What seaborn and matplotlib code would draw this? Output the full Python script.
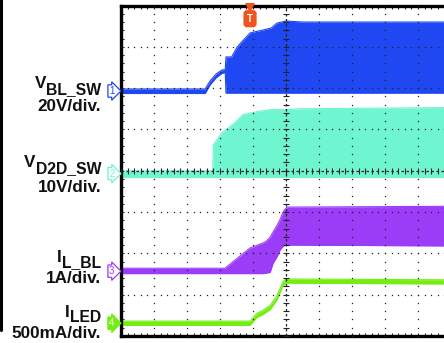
import numpy as np
import pandas as pd
import matplotlib
matplotlib.use("Agg")
import matplotlib.pyplot as plt
from matplotlib.lines import Line2D
import seaborn as sns

# ---------------- data ----------------
# time in screen divisions (0..10), values in channel units
ch_labels = ["V", "V", "I", "I"]
ch_subs = ["BL_SW", "D2D_SW", "L_BL", "LED"]
ch_scales_txt = ["20V/div.", "10V/div.", "1A/div.", "500mA/div."]
ch_numbers = ["1", "2", "3", "4"]
ch_scales = [20.0, 10.0, 1.0, 0.5]          # units per division
ch_offsets = [5.93, 3.93, 1.57, 0.31]       # ground marker position (div)
ch_colors = ["#1f48f2", "#6ff5cf", "#9b3cf7", "#74ee10"]

# CH1  V_BL_SW (V)
t1 = [0.0, 2.55, 2.70, 2.88, 3.06, 3.16, 3.18, 3.35, 3.52, 3.70, 3.91, 4.15, 4.30, 4.55, 4.73, 5.0, 5.5, 10.0]
hi1 = [1.0, 1.0, 4.9, 8.2, 10.2, 10.4, 16.5, 16.5, 21.3, 24.5, 28.1, 29.0, 29.5, 30.5, 32.9, 33.9, 33.4, 33.4]
lo1 = [-1.2, -1.2, 3.0, 6.4, 8.6, 8.9, -1.0, -1.0, -1.0, -1.0, -1.0, -1.0, -1.0, -1.0, -1.0, -1.0, -1.0, -1.0]

# CH2  V_D2D_SW (V)
t2 = [0.0, 2.78, 2.80, 3.06, 3.39, 3.70, 4.12, 4.52, 4.97, 5.42, 10.0]
hi2 = [0.7, 0.7, 7.0, 9.9, 11.9, 14.3, 15.0, 15.5, 15.5, 15.7, 16.0]
lo2 = [-0.7, -0.7, -0.7, -0.7, -0.7, -0.7, -0.7, -0.7, -0.7, -0.7, -0.7]

# CH3  I_L_BL (A)
t3 = [0.0, 3.15, 3.52, 3.91, 4.30, 4.39, 4.52, 4.61, 4.73, 4.82, 4.91, 4.97, 5.03, 10.0]
hi3 = [0.07, 0.07, 0.31, 0.56, 0.68, 0.72, 0.82, 0.95, 1.11, 1.25, 1.43, 1.50, 1.55, 1.57]
lo3 = [-0.06, -0.06, -0.06, -0.06, -0.06, -0.05, -0.03, 0.19, 0.35, 0.51, 0.60, 0.63, 0.63, 0.61]

# CH4  I_LED (A)
t4 = [0.0, 3.91, 4.12, 4.30, 4.52, 4.73, 4.91, 5.00, 10.0]
hi4 = [0.025, 0.025, 0.12, 0.155, 0.215, 0.335, 0.505, 0.535, 0.525]
lo4 = [-0.025, -0.025, 0.07, 0.105, 0.165, 0.285, 0.455, 0.485, 0.475]

trig_time = 3.91

traces = [(t1, hi1, lo1), (t2, hi2, lo2), (t3, hi3, lo3), (t4, hi4, lo4)]

# ---------------- figure ----------------
sns.set_theme(style="white")
plt.rcParams["font.family"] = ["Liberation Sans", "DejaVu Sans"]

W, H = 444, 343
fig = plt.figure(figsize=(W / 100, H / 100), dpi=100)
x0, x1, ytop, ybot = 121, 451, 5.5, 336
ax = fig.add_axes([x0 / W, 1 - ybot / H, (x1 - x0) / W, (ybot - ytop) / H])
ax.set_xlim(0, 10)
ax.set_ylim(0, 8)

for i, (t, hi, lo) in enumerate(traces):
    off, sc, col = ch_offsets[i], ch_scales[i], ch_colors[i]
    df = pd.DataFrame({"t": t,
                       "hi": off + np.array(hi) / sc,
                       "lo": off + np.array(lo) / sc})
    ax.fill_between(df["t"], df["lo"], df["hi"], color=col, lw=0, zorder=2)
    sns.lineplot(data=df, x="t", y="hi", ax=ax, color=col, lw=0.8,
                 estimator=None, sort=False, zorder=2)
    sns.lineplot(data=df, x="t", y="lo", ax=ax, color=col, lw=0.8,
                 estimator=None, sort=False, zorder=2)
ax.set_xlabel("")
ax.set_ylabel("")

# graticule dots
minor_y = np.arange(0, 8.01, 0.2)
minor_x = np.arange(0, 10.01, 0.2)
for gx in range(1, 10):
    if gx == 5:
        continue
    ax.plot(np.full_like(minor_y, gx), minor_y, ls="none", marker="s",
            ms=0.9, mew=0, color="#222222", zorder=4)
for gy in range(1, 8):
    if gy == 4:
        continue
    ax.plot(minor_x, np.full_like(minor_x, gy), ls="none", marker="s",
            ms=0.9, mew=0, color="#222222", zorder=4)
# center cross lines
ax.axhline(4, color="#222222", lw=0.9, ls=(0, (2, 2)), zorder=4)
ax.axvline(5, color="#222222", lw=0.9, ls=(0, (2, 2)), zorder=4)
ax.plot(minor_x, np.full_like(minor_x, 4), ls="none", marker="|", ms=4,
        mew=0.8, color="#222222", zorder=4)
ax.plot(np.full_like(minor_y, 5), minor_y, ls="none", marker="_", ms=4,
        mew=0.8, color="#222222", zorder=4)

# frame
for s in ["left", "top", "bottom"]:
    ax.spines[s].set_visible(True)
    ax.spines[s].set_color("black")
    ax.spines[s].set_linewidth(2.4)
ax.spines["right"].set_visible(False)
ax.set_xticks(range(0, 11))
ax.set_yticks(range(0, 9))
ax.set_xticks(minor_x, minor=True)
ax.set_yticks(minor_y, minor=True)
ax.tick_params(which="both", direction="in", top=True, bottom=True, left=True,
               right=False, labelbottom=False, labelleft=False, length=2.5,
               width=0.8, color="#222222")
ax.grid(False)

# trigger marker
ax.plot([trig_time], [7.93], marker="v", ms=7, color="#f0541e", mew=0,
        clip_on=False, zorder=6)
ax.text(trig_time, 7.68, "T", color="white", fontsize=7, fontweight="bold",
        ha="center", va="center", zorder=6,
        bbox=dict(boxstyle="round,pad=0.3", fc="#f0541e", ec="#f0541e"))

# channel ground markers
for i in range(4):
    col = ch_colors[i]
    filled = i == 3
    ax.text(-0.028, ch_offsets[i], ch_numbers[i], transform=ax.get_yaxis_transform(),
            ha="center", va="center", fontsize=7, color="white" if filled else col,
            clip_on=False, zorder=6,
            bbox=dict(boxstyle="rarrow,pad=0.12", fc=col if filled else "white",
                      ec=col, lw=0.9))

# left labels
def fpos(x, y):
    return x / W, 1 - y / H

lab_main_base = [88, 167, 262, 317]
lab_sub_base = [94, 173, 267, 322]
lab_scale_base = [111, 192, 283, 338]
fig.canvas.draw()
r = fig.canvas.get_renderer()
for i in range(4):
    sub = fig.text(*fpos(101, lab_sub_base[i]), ch_subs[i], ha="right",
                   va="baseline", fontsize=11.3, fontweight="bold", color="#111111")
    bb = sub.get_window_extent(r)
    fig.text(bb.x0 / W, 1 - lab_main_base[i] / H, ch_labels[i], ha="right",
             va="baseline", fontsize=12.3, fontweight="bold", color="#111111")
    fig.text(*fpos(101, lab_scale_base[i]), ch_scales_txt[i], ha="right",
             va="baseline", fontsize=12.3, fontweight="bold", color="#111111")

fig.add_artist(Line2D([1.2 / W, 1.2 / W], [1 - 330 / H, 1], transform=fig.transFigure,
                      color="black", lw=2.2))

fig.savefig("out.png", dpi=100)
